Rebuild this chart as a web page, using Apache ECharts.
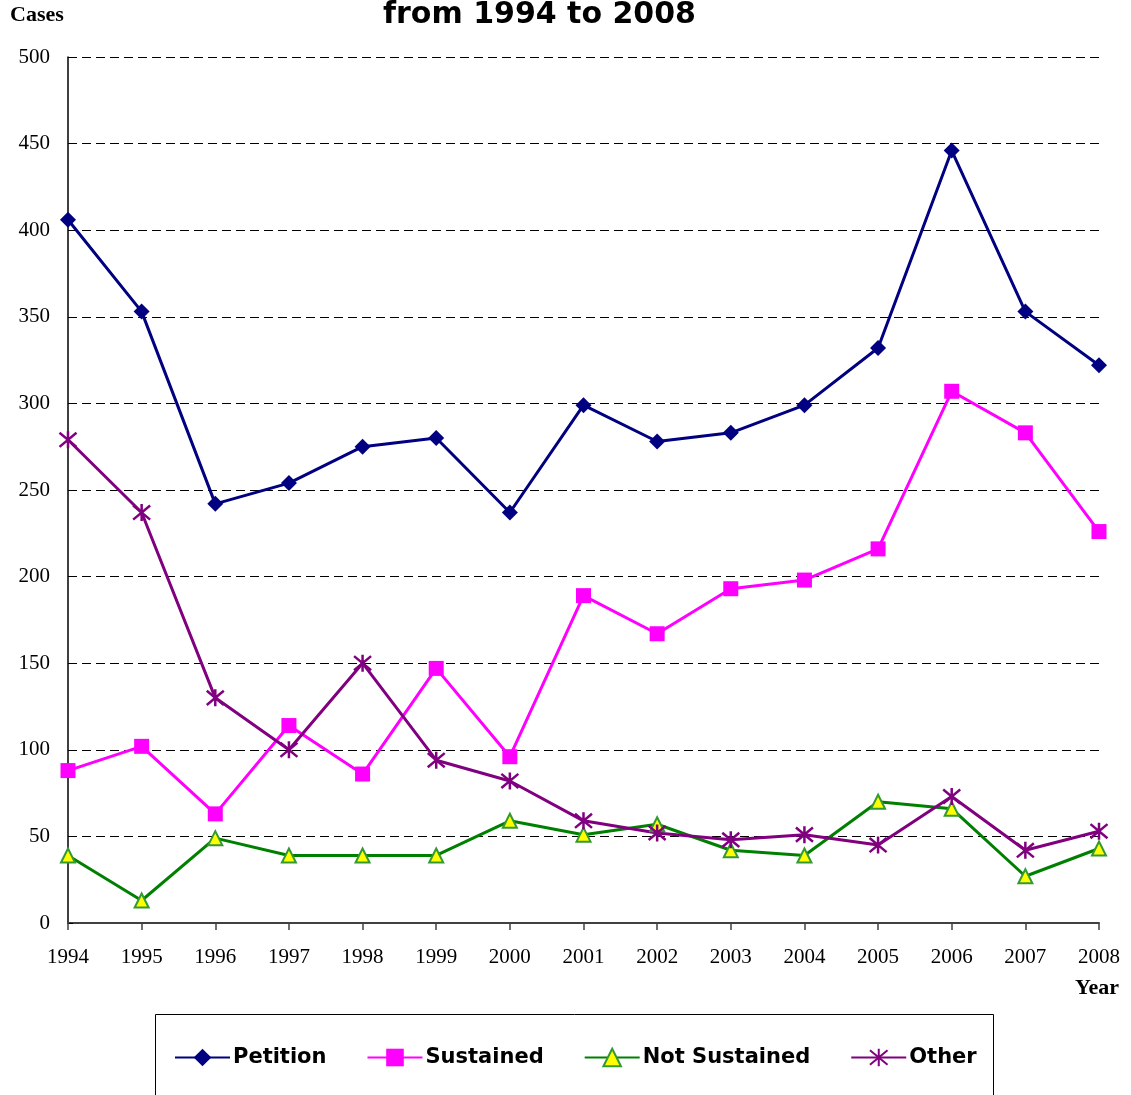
<!DOCTYPE html>
<html>
<head>
<meta charset="utf-8">
<script src="https://cdn.jsdelivr.net/npm/echarts@6/dist/echarts.min.js"></script>
<style>html,body{margin:0;padding:0;background:#fff}#c{width:1131px;height:1095px}</style>
</head>
<body>
<div id="c"></div>
<script>
const years = ['1994','1995','1996','1997','1998','1999','2000','2001','2002','2003','2004','2005','2006','2007','2008'];
const petition = [406,353,242,254,275,280,237,299,278,283,299,332,446,353,322];
const sustained = [88,102,63,114,86,147,96,189,167,193,198,216,307,283,226];
const notSustained = [39,13,49,39,39,39,59,51,57,42,39,70,66,27,43];
const other = [279,237,130,100,150,94,82,59,52,48,51,45,73,42,53];
const yTicks = {min:0, max:500, interval:50};

const asterisk = 'path://M0,0L10,10M10,0L0,10M5,-1L5,11';
const chart = echarts.init(document.getElementById('c'));
const serif = '"Liberation Serif","DejaVu Serif",serif';
const sans = '"DejaVu Sans",Verdana,sans-serif';
chart.setOption({
  animation:false,
  backgroundColor:'#fff',
  title:{text:'from 1994 to 2008', left:378, top:-5,
    textStyle:{fontFamily:sans, fontWeight:'bold', fontSize:30, color:'#000'}},
  grid:{left:68, right:32, top:57, bottom:172, containLabel:false},
  xAxis:{type:'category', data:years, boundaryGap:false,
    axisLine:{lineStyle:{color:'#404040', width:2}},
    axisTick:{show:true, length:7, lineStyle:{color:'#404040', width:1.5}},
    axisLabel:{fontFamily:serif, fontSize:21, color:'#000', margin:24, interval:0},
    splitLine:{show:false}},
  yAxis:{type:'value', min:yTicks.min, max:yTicks.max, interval:yTicks.interval,
    axisLine:{show:true, lineStyle:{color:'#000', width:1.5}},
    axisTick:{show:true, inside:true, length:5, lineStyle:{color:'#000'}},
    axisLabel:{fontFamily:serif, fontSize:21, color:'#000', margin:18},
    splitLine:{show:true, lineStyle:{color:'#000', type:[9,5], width:1}}},
  legend:{left:169, top:1042, itemWidth:55, itemHeight:22, itemGap:40,
    textStyle:{fontFamily:sans, fontWeight:'bold', fontSize:21, color:'#000', padding:[0,0,0,-2]},
    data:['Petition','Sustained','Not Sustained','Other']},
  graphic:[
    {type:'rect', shape:{x:155.5, y:1014.5, width:838, height:120}, style:{fill:'none', stroke:'#000', lineWidth:1}},
    {type:'text', left:10, top:4, style:{text:'Cases', font:'bold 22px '+serif, fill:'#000'}},
    {type:'text', left:1075, top:977, style:{text:'Year', font:'bold 22px '+serif, fill:'#000'}}
  ],
  series:[
    {name:'Petition', type:'line', data:petition, symbol:'diamond', symbolSize:16,
      lineStyle:{color:'#000080', width:3}, itemStyle:{color:'#000080'}},
    {name:'Sustained', type:'line', data:sustained, symbol:'rect', symbolSize:15,
      lineStyle:{color:'#FF00FF', width:3}, itemStyle:{color:'#FF00FF'}},
    {name:'Not Sustained', type:'line', data:notSustained, symbol:'triangle', symbolSize:14,
      lineStyle:{color:'#008000', width:3}, itemStyle:{color:'#FFFF00', borderColor:'#339933', borderWidth:2}},
    {name:'Other', type:'line', data:other, symbol:asterisk, symbolSize:17,
      lineStyle:{color:'#800080', width:3}, itemStyle:{color:'rgba(0,0,0,0)', borderColor:'#800080', borderWidth:2.5}}
  ]
});
</script>
</body>
</html>
